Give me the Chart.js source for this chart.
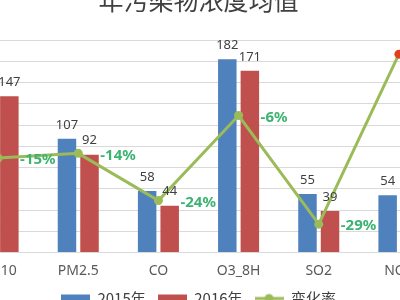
<!DOCTYPE html>
<html><head><meta charset="utf-8">
<script src="https://cdn.jsdelivr.net/npm/chart.js@4.4.1/dist/chart.umd.min.js"></script>
<style>
html,body{margin:0;padding:0;width:400px;height:300px;overflow:hidden;background:#fff;}
#wrap{position:absolute;left:-50px;top:-30px;width:500px;height:346px;}
</style></head><body>
<div id="wrap"><canvas id="c" width="500" height="346"></canvas></div>
<script>
const categories = ['PM10', 'PM2.5', 'CO', 'O3_8H', 'SO2', 'NO2'];
const values2015 = [173, 107, 58, 182, 55, 54];
const values2016 = [147, 92, 44, 171, 39, 58];
const changeRate = [-0.15, -0.14, -0.24, -0.06, -0.29, 0.07];
const seriesNames = ['2015年', '2016年', '变化率'];
const titleText = '年污染物浓度均值';
const valueAxis = { min: 0, max: 200, step: 20 };
const rateAxis = { min: -0.35, max: 0.10 };

const BLUE = '#4f81bd', RED = '#c0504d', GREEN = '#9bbb59', UP = '#e0401c';

function legendIcon(kind, color) {
  const c = document.createElement('canvas'); c.width = 29; c.height = 12;
  const g = c.getContext('2d');
  if (kind === 'rect') { g.fillStyle = color; g.fillRect(0, 2, 29, 8); }
  else {
    g.strokeStyle = color; g.lineWidth = 3; g.beginPath(); g.moveTo(0, 6); g.lineTo(29, 6); g.stroke();
    g.fillStyle = color; g.beginPath(); g.arc(14.5, 6, 4.5, 0, Math.PI * 2); g.fill();
  }
  return c;
}
const icons = [legendIcon('rect', BLUE), legendIcon('rect', RED), legendIcon('line', GREEN)];

const labelPlugin = {
  id: 'valueLabels',
  afterDatasetsDraw(chart) {
    const ctx = chart.ctx;
    ctx.save();
    chart.data.datasets.forEach((ds, i) => {
      const meta = chart.getDatasetMeta(i);
      if (meta.type === 'bar') {
        ctx.font = '13px "Noto Sans", sans-serif';
        ctx.fillStyle = '#404040'; ctx.textAlign = 'center'; ctx.textBaseline = 'middle';
        meta.data.forEach((el, j) => ctx.fillText(String(ds.data[j]), el.x, el.y - 14));
      } else {
        ctx.font = 'bold 15px "Noto Sans", sans-serif';
        ctx.fillStyle = '#3cb371'; ctx.textAlign = 'left'; ctx.textBaseline = 'middle';
        meta.data.forEach((el, j) => {
          const v = ds.data[j];
          ctx.fillText((v > 0 ? '+' : '') + Math.round(v * 100) + '%', el.x + 22, el.y + 2);
        });
      }
    });
    ctx.restore();
  }
};

new Chart(document.getElementById('c'), {
  data: {
    labels: categories,
    datasets: [
      { type: 'bar', label: seriesNames[0], data: values2015, backgroundColor: BLUE, yAxisID: 'y', order: 1,
        categoryPercentage: 0.5625, barPercentage: 0.82 },
      { type: 'bar', label: seriesNames[1], data: values2016, backgroundColor: RED, yAxisID: 'y', order: 1,
        categoryPercentage: 0.5625, barPercentage: 0.82 },
      { type: 'line', label: seriesNames[2], data: changeRate, yAxisID: 'y1', order: 0,
        borderColor: GREEN, backgroundColor: GREEN, borderWidth: 3, tension: 0,
        pointRadius: 4.5, pointBorderWidth: 0,
        pointBackgroundColor: changeRate.map(v => v > 0 ? UP : GREEN),
        pointBorderColor: changeRate.map(v => v > 0 ? UP : GREEN) }
    ]
  },
  options: {
    responsive: false, animation: false, devicePixelRatio: 1,
    layout: { padding: { left: 8, right: 11, top: 0, bottom: 0 } },
    plugins: {
      title: { display: true, text: titleText, color: '#404040',
        font: { family: '"Noto Sans CJK SC", sans-serif', size: 25, weight: 'normal' },
        padding: { top: 15, bottom: 25 } },
      legend: { position: 'bottom',
        labels: { usePointStyle: true, pointStyleWidth: 29, padding: 12, color: '#404040',
          font: { family: '"Noto Sans CJK SC", "Noto Sans", sans-serif', size: 15 },
          sort: (a, b) => a.datasetIndex - b.datasetIndex,
          generateLabels(chart) {
            const items = Chart.defaults.plugins.legend.labels.generateLabels(chart);
            items.forEach(it => { it.pointStyle = icons[it.datasetIndex]; });
            return items;
          } } },
      tooltip: { enabled: false }
    },
    scales: {
      x: { grid: { display: false, drawTicks: false }, border: { display: false },
        afterFit(scale) { scale.height = 26.5; },
        ticks: { color: '#595959', padding: 10, font: { family: '"Noto Sans", sans-serif', size: 14 } } },
      y: { position: 'left', min: valueAxis.min, max: valueAxis.max,
        ticks: { display: false, stepSize: valueAxis.step },
        grid: { color: '#d9d9d9', drawTicks: false }, border: { display: false } },
      y1: { position: 'right', display: false, min: rateAxis.min, max: rateAxis.max, grid: { display: false } }
    }
  },
  plugins: [labelPlugin]
});
</script>
</body></html>
